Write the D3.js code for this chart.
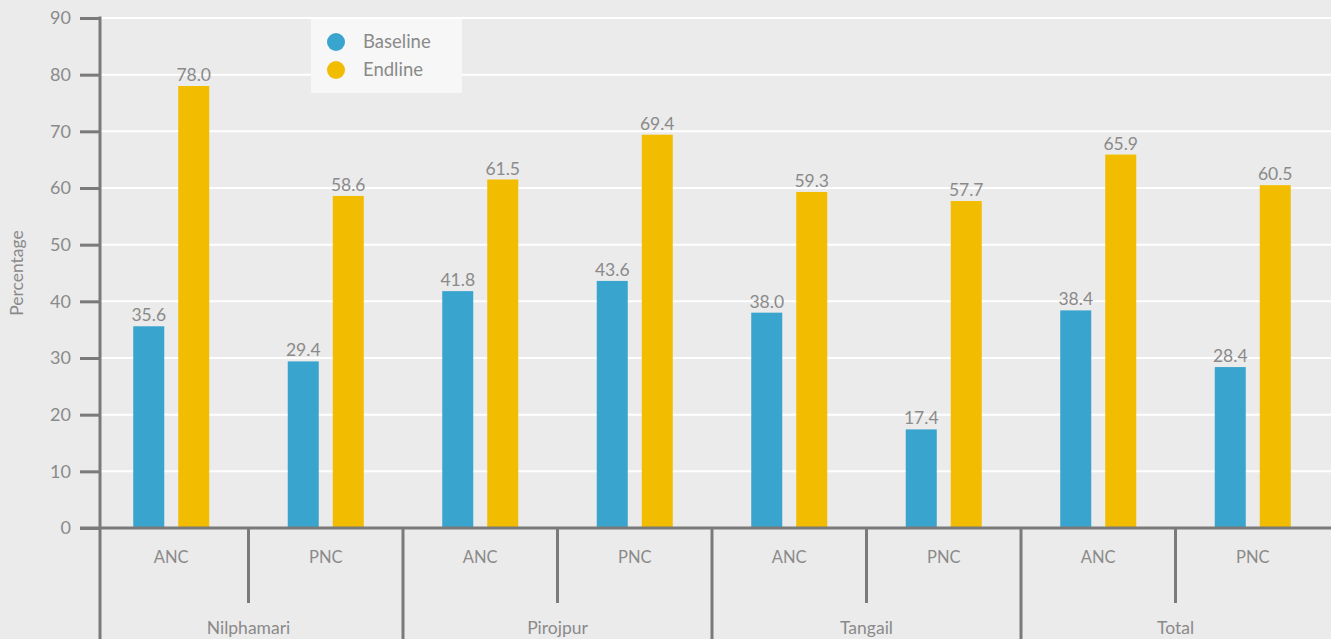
<!DOCTYPE html>
<html>
<head>
<meta charset="utf-8">
<script src="https://cdn.jsdelivr.net/npm/d3@7/dist/d3.min.js"></script>
<style>
  html, body { margin: 0; padding: 0; background: #ebebeb; overflow: hidden; }
  svg { display: block; font-family: Lato, "Noto Sans", sans-serif; font-weight: 400; }
</style>
</head>
<body>
<svg id="chart" width="1331" height="639"></svg>
<script>
// Regions and service types
const regions = ["Nilphamari", "Pirojpur", "Tangail", "Total"];
const services = ["ANC", "PNC"];
const seriesNames = ["Baseline", "Endline"];
// Percentages per region/service, in order Nilphamari ANC, PNC, Pirojpur ANC, PNC, ...
const baseline = [35.6, 29.4, 41.8, 43.6, 38.0, 17.4, 38.4, 28.4];
const endline  = [78.0, 58.6, 61.5, 69.4, 59.3, 57.7, 65.9, 60.5];
const yTicks = [0, 10, 20, 30, 40, 50, 60, 70, 80, 90];

const colors = { Baseline: "#39a4cd", Endline: "#f2bc00" };
const axisColor = "#7a7a7a";
const textColor = "#8a8a8a";

const svg = d3.select("#chart");
const W = 1331, H = 639;
const axisX = 100, baseY = 528, topY = 18;

// Each bar pair sits in one band: region x service
const rows = [];
regions.forEach((r, ri) => services.forEach((s, si) => {
  const i = ri * services.length + si;
  rows.push({ key: r + "|" + s, region: r, service: s, Baseline: baseline[i], Endline: endline[i] });
}));

const x = d3.scaleBand().domain(rows.map(d => d.key)).range([94, 1330]).padding(0);
const xs = d3.scaleBand().domain(seriesNames).range([-38, 38]).paddingInner(0.311).paddingOuter(0);
const y = d3.scaleLinear().domain([0, 90]).range([baseY, topY]);

svg.append("rect").attr("width", W).attr("height", H).attr("fill", "#ebebeb");

// Horizontal gridlines
svg.append("g").selectAll("line").data(yTicks.filter(t => t > 0)).join("line")
  .attr("x1", axisX).attr("x2", W)
  .attr("y1", d => y(d)).attr("y2", d => y(d))
  .attr("stroke", "#ffffff").attr("stroke-width", 2);

// Bars
const pair = svg.append("g").selectAll("g").data(rows).join("g")
  .attr("transform", d => `translate(${x(d.key) + x.bandwidth() / 2},0)`);

pair.selectAll("rect").data(d => seriesNames.map(s => ({ s, v: d[s] }))).join("rect")
  .attr("x", d => xs(d.s))
  .attr("width", xs.bandwidth())
  .attr("y", d => y(d.v))
  .attr("height", d => baseY - y(d.v))
  .attr("fill", d => colors[d.s]);

pair.selectAll("text").data(d => seriesNames.map(s => ({ s, v: d[s] }))).join("text")
  .attr("x", d => xs(d.s) + xs.bandwidth() / 2)
  .attr("y", d => y(d.v) - 5)
  .attr("text-anchor", "middle")
  .attr("fill", textColor)
  .attr("font-size", 17.5)
  .text(d => d.v.toFixed(1));

// Y axis
const yAxis = d3.axisLeft(y).tickValues(yTicks).tickSize(20).tickPadding(9);
const gy = svg.append("g").attr("transform", `translate(${axisX},0)`).call(yAxis);
gy.select(".domain").remove();
gy.selectAll(".tick line").attr("stroke", axisColor).attr("stroke-width", 3);
gy.selectAll(".tick text").attr("fill", textColor).attr("font-size", 18)
  .attr("font-family", "Lato, 'Noto Sans', sans-serif").attr("font-weight", 400);
svg.append("line").attr("x1", axisX).attr("x2", axisX).attr("y1", topY - 1.5).attr("y2", H)
  .attr("stroke", axisColor).attr("stroke-width", 3);

// Baseline of the plot
svg.append("line").attr("x1", 80).attr("x2", W).attr("y1", baseY).attr("y2", baseY)
  .attr("stroke", axisColor).attr("stroke-width", 3);

// Category dividers: short between services, full-height between regions
rows.forEach((d, i) => {
  if (i === 0) return;
  const bx = x(d.key);
  const major = d.service === services[0];
  svg.append("line").attr("x1", bx).attr("x2", bx)
    .attr("y1", baseY).attr("y2", major ? H : 603)
    .attr("stroke", axisColor).attr("stroke-width", 3);
});

// Service labels
svg.append("g").selectAll("text").data(rows).join("text")
  .attr("x", d => x(d.key) + x.bandwidth() / 2)
  .attr("y", 563)
  .attr("text-anchor", "middle")
  .attr("fill", textColor).attr("font-size", 16.5)
  .text(d => d.service);

// Region labels centred on each region's span
svg.append("g").selectAll("text").data(regions).join("text")
  .attr("x", r => x(r + "|" + services[services.length - 1]))
  .attr("y", 634)
  .attr("text-anchor", "middle")
  .attr("fill", textColor).attr("font-size", 17.5)
  .text(r => r);

// Y axis title
svg.append("text")
  .attr("transform", `translate(23,${(baseY + topY) / 2}) rotate(-90)`)
  .attr("text-anchor", "middle")
  .attr("fill", textColor).attr("font-size", 17.5)
  .text("Percentage");

// Legend
const lg = svg.append("g").attr("transform", "translate(311,19)");
lg.append("rect").attr("width", 151).attr("height", 74).attr("fill", "#f7f7f7");
const item = lg.selectAll("g").data(seriesNames).join("g")
  .attr("transform", (d, i) => `translate(0,${23 + i * 28})`);
item.append("circle").attr("cx", 25).attr("cy", 0).attr("r", 9).attr("fill", d => colors[d]);
item.append("text").attr("x", 52).attr("y", 6)
  .attr("fill", textColor).attr("font-size", 18.5).text(d => d);
</script>
</body>
</html>
